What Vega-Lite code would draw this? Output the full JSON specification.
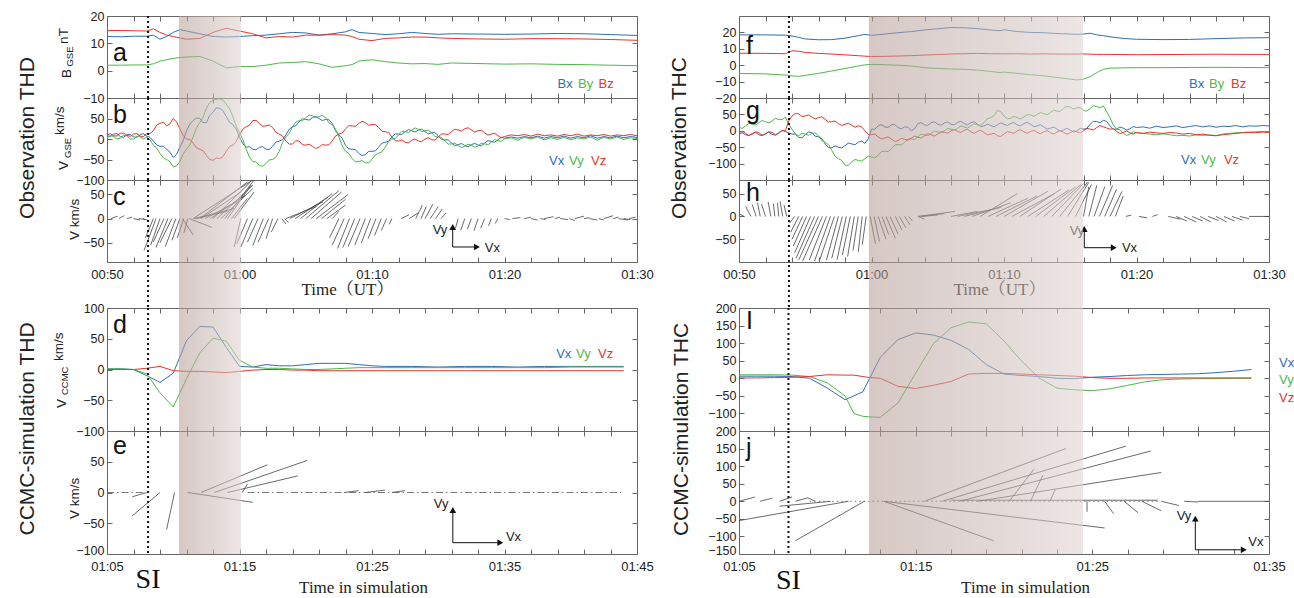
{
"$schema": "https://vega.github.io/schema/vega-lite/v6.json",
"background": "white",
"padding": {"left": 16, "top": 9, "right": 0, "bottom": 0},
"config": {
  "view": {"stroke": "#666", "strokeWidth": 1},
  "axis": {"domain": false, "grid": false, "tickColor": "#666", "tickSize": -5, "tickWidth": 1, "labelFont": "Liberation Sans", "labelFontSize": 12.5, "labelColor": "#222", "titleFont": "Liberation Serif, Noto Serif CJK SC, Noto Sans CJK SC, serif", "titleFontSize": 17, "titleFontWeight": "normal", "titleColor": "#222", "labelOverlap": false, "labelFlush": false, "labelBound": false},
  "axisX": {"labelPadding": 11, "labelFontSize": 13},
  "axisY": {"labelPadding": 8},
  "text": {"font": "Liberation Sans"}
},
"datasets": {
"thdB": [
{"t":50,"x":12.5,"y":2.0,"z":14.7},{"t":51,"x":12.4,"y":2.0,"z":14.7},{"t":52,"x":12.6,"y":2.1,"z":14.6},{"t":53,"x":12.6,"y":2.1,"z":14.5},{"t":53.5,"x":13.0,"y":2.5,"z":15.3},{"t":54,"x":11.5,"y":3.5,"z":14.0},{"t":54.5,"x":12.5,"y":4.0,"z":13.0},{"t":55,"x":14.0,"y":4.5,"z":12.5},{"t":55.5,"x":15.0,"y":4.8,"z":12.0},{"t":56,"x":14.5,"y":5.0,"z":11.5},{"t":57,"x":13.5,"y":5.2,"z":11.8},{"t":58,"x":12.5,"y":3.5,"z":14.0},{"t":59,"x":12.3,"y":1.0,"z":15.5},{"t":60,"x":12.5,"y":1.5,"z":14.5},{"t":61,"x":12.8,"y":1.5,"z":13.5},{"t":62,"x":13.0,"y":2.0,"z":12.0},{"t":63,"x":13.5,"y":2.8,"z":12.5},{"t":64,"x":14.0,"y":3.0,"z":12.3},{"t":65,"x":13.8,"y":3.3,"z":13.0},{"t":66,"x":13.0,"y":2.5,"z":13.0},{"t":67,"x":13.5,"y":1.2,"z":13.2},{"t":68,"x":14.2,"y":1.8,"z":13.0},{"t":68.5,"x":15.0,"y":2.2,"z":12.5},{"t":69,"x":14.0,"y":3.5,"z":11.5},{"t":70,"x":13.6,"y":4.0,"z":11.0},{"t":71,"x":13.2,"y":3.3,"z":11.8},{"t":72,"x":13.5,"y":2.8,"z":12.0},{"t":73,"x":14.0,"y":2.5,"z":12.3},{"t":74,"x":13.6,"y":2.6,"z":12.3},{"t":75,"x":13.3,"y":2.3,"z":12.0},{"t":76,"x":13.5,"y":2.8,"z":11.8},{"t":78,"x":13.4,"y":2.6,"z":11.6},{"t":80,"x":13.3,"y":2.4,"z":11.5},{"t":82,"x":13.4,"y":2.5,"z":11.7},{"t":84,"x":13.6,"y":2.3,"z":11.7},{"t":86,"x":13.5,"y":2.2,"z":11.6},{"t":88,"x":13.2,"y":2.0,"z":11.4},{"t":90,"x":12.9,"y":1.8,"z":11.1}
],
"thdV": [
{"t":50.0,"x":8,"y":3,"z":10},{"t":50.5,"x":12,"y":6,"z":8},{"t":51.0,"x":6,"y":2,"z":14},{"t":51.5,"x":10,"y":8,"z":9},{"t":52.0,"x":5,"y":0,"z":12},{"t":52.5,"x":11,"y":5,"z":7},{"t":53.0,"x":7,"y":4,"z":13},{"t":53.5,"x":-5,"y":-15,"z":20},{"t":54.0,"x":-18,"y":-35,"z":38},{"t":54.5,"x":-25,"y":-50,"z":32},{"t":55.0,"x":-45,"y":-68,"z":50},{"t":55.5,"x":-20,"y":-55,"z":25},{"t":56.0,"x":20,"y":-25,"z":0},{"t":56.5,"x":45,"y":5,"z":-10},{"t":57.0,"x":50,"y":40,"z":-25},{"t":57.5,"x":40,"y":75,"z":-40},{"t":58.0,"x":65,"y":95,"z":-52},{"t":58.5,"x":75,"y":98,"z":-48},{"t":59.0,"x":55,"y":85,"z":-30},{"t":59.5,"x":35,"y":55,"z":-15},{"t":60.0,"x":5,"y":15,"z":10},{"t":60.5,"x":-20,"y":-25,"z":30},{"t":61.0,"x":-25,"y":-55,"z":45},{"t":61.5,"x":-20,"y":-65,"z":38},{"t":62.0,"x":-25,"y":-60,"z":32},{"t":62.5,"x":-18,"y":-50,"z":28},{"t":63.0,"x":-5,"y":-30,"z":12},{"t":63.5,"x":10,"y":5,"z":-5},{"t":64.0,"x":30,"y":30,"z":-12},{"t":64.5,"x":42,"y":45,"z":-5},{"t":65.0,"x":48,"y":52,"z":-15},{"t":65.5,"x":52,"y":57,"z":-18},{"t":66.0,"x":50,"y":55,"z":-20},{"t":66.5,"x":48,"y":52,"z":-15},{"t":67.0,"x":38,"y":35,"z":-5},{"t":67.5,"x":10,"y":5,"z":12},{"t":68.0,"x":-15,"y":-30,"z":25},{"t":68.5,"x":-25,"y":-48,"z":32},{"t":69.0,"x":-35,"y":-55,"z":38},{"t":69.5,"x":-38,"y":-58,"z":40},{"t":70.0,"x":-30,"y":-50,"z":35},{"t":70.5,"x":-20,"y":-35,"z":28},{"t":71.0,"x":-8,"y":-20,"z":18},{"t":71.5,"x":5,"y":0,"z":5},{"t":72.0,"x":12,"y":10,"z":-5},{"t":72.5,"x":18,"y":18,"z":-8},{"t":73.0,"x":20,"y":22,"z":-3},{"t":73.5,"x":22,"y":24,"z":-5},{"t":74.0,"x":18,"y":20,"z":0},{"t":74.5,"x":15,"y":15,"z":-2},{"t":75.0,"x":8,"y":5,"z":5},{"t":75.5,"x":-2,"y":-5,"z":12},{"t":76.0,"x":-10,"y":-12,"z":18},{"t":76.5,"x":-14,"y":-16,"z":22},{"t":77.0,"x":-16,"y":-18,"z":25},{"t":77.5,"x":-14,"y":-15,"z":22},{"t":78.0,"x":-15,"y":-17,"z":20},{"t":78.5,"x":-10,"y":-12,"z":15},{"t":79.0,"x":-6,"y":-8,"z":12},{"t":79.5,"x":-2,"y":-4,"z":8},{"t":80.0,"x":2,"y":0,"z":6},{"t":80.5,"x":5,"y":3,"z":10},{"t":81.0,"x":2,"y":-3,"z":8},{"t":81.5,"x":6,"y":4,"z":11},{"t":82.0,"x":3,"y":0,"z":7},{"t":82.5,"x":7,"y":5,"z":12},{"t":83.0,"x":2,"y":-2,"z":8},{"t":83.5,"x":6,"y":3,"z":10},{"t":84.0,"x":3,"y":-1,"z":7},{"t":84.5,"x":7,"y":4,"z":11},{"t":85.0,"x":2,"y":-2,"z":8},{"t":85.5,"x":6,"y":3,"z":12},{"t":86.0,"x":3,"y":0,"z":7},{"t":86.5,"x":8,"y":5,"z":10},{"t":87.0,"x":2,"y":-3,"z":8},{"t":87.5,"x":6,"y":4,"z":11},{"t":88.0,"x":3,"y":0,"z":7},{"t":88.5,"x":7,"y":5,"z":10},{"t":89.0,"x":3,"y":-1,"z":8},{"t":89.5,"x":6,"y":3,"z":11},{"t":90.0,"x":4,"y":1,"z":8},
{"t":50.25,"x":6,"y":8.5,"z":13},{"t":50.75,"x":13,"y":0,"z":7},{"t":51.25,"x":4,"y":9,"z":14.5},{"t":51.75,"x":11.5,"y":0,"z":6.5},{"t":52.25,"x":4,"y":6.5,"z":13.5},{"t":52.75,"x":13,"y":0.5,"z":6},{"t":53.25,"x":4,"y":-2.5,"z":13.5},{"t":53.75,"x":-14.5,"y":-22,"z":34},{"t":54.25,"x":-17.5,"y":-46.5,"z":41},{"t":54.75,"x":-32,"y":-55,"z":37},{"t":55.25,"x":-37.5,"y":-65.5,"z":41.5},{"t":55.75,"x":-4,"y":-36,"z":8.5},{"t":56.25,"x":36.5,"y":-14,"z":-1},{"t":56.75,"x":51.5,"y":26.5,"z":-21.5},{"t":57.25,"x":40,"y":53.5,"z":-28.5},{"t":57.75,"x":57.5,"y":89,"z":-50},{"t":58.25,"x":76,"y":96.5,"z":-46},{"t":58.75,"x":69,"y":94.5,"z":-43},{"t":59.25,"x":41,"y":74,"z":-18.5},{"t":59.75,"x":24,"y":31,"z":-6.5},{"t":60.25,"x":-11.5,"y":-1,"z":24},{"t":60.75,"x":-18.5,"y":-44,"z":33.5},{"t":61.25,"x":-26.5,"y":-56,"z":45.5},{"t":61.75,"x":-18.5,"y":-66.5,"z":31},{"t":62.25,"x":-25.5,"y":-51,"z":34},{"t":62.75,"x":-7.5,"y":-44,"z":16},{"t":63.25,"x":-1.5,"y":-8.5,"z":7.5},{"t":63.75,"x":24,"y":13.5,"z":-12.5},{"t":64.25,"x":32,"y":41.5,"z":-4.5},{"t":64.75,"x":49,"y":44.5,"z":-14},{"t":65.25,"x":46,"y":58.5,"z":-12.5},{"t":65.75,"x":55,"y":52,"z":-23},{"t":66.25,"x":45,"y":57.5,"z":-13.5},{"t":66.75,"x":47,"y":39.5,"z":-14},{"t":67.25,"x":20,"y":24,"z":7.5},{"t":67.75,"x":1.5,"y":-16.5,"z":14.5},{"t":68.25,"x":-24,"y":-35,"z":32.5},{"t":68.75,"x":-26,"y":-55.5,"z":31},{"t":69.25,"x":-40.5,"y":-52.5,"z":43},{"t":69.75,"x":-30,"y":-58,"z":33.5},{"t":70.25,"x":-29,"y":-38.5,"z":35.5},{"t":70.75,"x":-10,"y":-31.5,"z":19},{"t":71.25,"x":-5.5,"y":-6,"z":15.5},{"t":71.75,"x":12.5,"y":1,"z":-4},{"t":72.25,"x":11,"y":18,"z":-2.5},{"t":72.75,"x":23,"y":16,"z":-9.5},{"t":73.25,"x":17,"y":27,"z":0},{"t":73.75,"x":24,"y":18,"z":-6.5},{"t":74.25,"x":12.5,"y":21.5,"z":3},{"t":74.75,"x":15.5,"y":6,"z":-2.5},{"t":75.25,"x":-1,"y":4,"z":12.5},{"t":75.75,"x":-2,"y":-12.5,"z":11},{"t":76.25,"x":-16,"y":-10,"z":24},{"t":76.75,"x":-11,"y":-21,"z":19.5},{"t":77.25,"x":-19,"y":-12.5,"z":27.5},{"t":77.75,"x":-10.5,"y":-20,"z":17},{"t":78.25,"x":-16.5,"y":-10.5,"z":21.5},{"t":78.75,"x":-4,"y":-14,"z":9.5},{"t":79.25,"x":-8,"y":-2,"z":14},{"t":79.75,"x":4,"y":-6,"z":3}
],
"thdVec": [
{"t":50.3,"v":0,"t2":50.8,"v2":5},{"t":50.9,"v":0,"t2":51.3,"v2":6},{"t":51.5,"v":0,"t2":51.9,"v2":3},{"t":52.0,"v":0,"t2":52.5,"v2":-3},{"t":52.4,"v":0,"t2":52.9,"v2":-2},{"t":52.7,"v":0,"t2":53.1,"v2":-4},
{"t":53.5,"v":0,"t2":52.9,"v2":-40},{"t":53.7,"v":0,"t2":52.8,"v2":-66},{"t":54.0,"v":0,"t2":53.3,"v2":-55},{"t":54.3,"v":0,"t2":53.5,"v2":-48},{"t":54.6,"v":0,"t2":53.7,"v2":-60},{"t":54.9,"v":0,"t2":54.0,"v2":-50},{"t":55.2,"v":0,"t2":54.4,"v2":-58},{"t":55.5,"v":0,"t2":54.9,"v2":-45},{"t":55.8,"v":0,"t2":55.3,"v2":-40},{"t":56.1,"v":0,"t2":55.8,"v2":-30},
{"t":55.7,"v":0,"t2":56.5,"v2":-34},{"t":56.2,"v":0,"t2":57.9,"v2":-18},
{"t":56.5,"v":0,"t2":61.0,"v2":80},{"t":56.6,"v":0,"t2":59.6,"v2":21},{"t":56.7,"v":0,"t2":59.1,"v2":15},{"t":57.0,"v":0,"t2":60.6,"v2":76},{"t":57.1,"v":0,"t2":60.1,"v2":55},{"t":57.4,"v":0,"t2":59.8,"v2":35},{"t":57.8,"v":0,"t2":60.4,"v2":48},{"t":58.0,"v":0,"t2":60.8,"v2":75},{"t":58.3,"v":0,"t2":61.0,"v2":69},{"t":58.6,"v":0,"t2":61.0,"v2":62},{"t":58.9,"v":0,"t2":61.1,"v2":80},{"t":59.1,"v":0,"t2":60.9,"v2":70},{"t":59.4,"v":0,"t2":60.6,"v2":42},{"t":59.6,"v":0,"t2":61.1,"v2":55},
{"t":60.1,"v":0,"t2":59.6,"v2":-59},{"t":60.6,"v":0,"t2":59.8,"v2":-52},{"t":61.0,"v":0,"t2":60.1,"v2":-59},{"t":61.4,"v":0,"t2":60.6,"v2":-49},{"t":61.8,"v":0,"t2":61.0,"v2":-56},{"t":62.2,"v":0,"t2":61.4,"v2":-49},{"t":62.5,"v":0,"t2":62.0,"v2":-42},{"t":62.9,"v":0,"t2":62.4,"v2":-28},
{"t":63.2,"v":0,"t2":63.5,"v2":-11},{"t":63.4,"v":0,"t2":63.7,"v2":-8},
{"t":63.5,"v":0,"t2":65.8,"v2":25},{"t":63.8,"v":0,"t2":66.3,"v2":35},{"t":64.2,"v":0,"t2":66.7,"v2":45},{"t":64.6,"v":0,"t2":67.0,"v2":52},{"t":65.0,"v":0,"t2":67.5,"v2":58},{"t":65.4,"v":0,"t2":67.7,"v2":55},{"t":65.8,"v":0,"t2":68.2,"v2":50},{"t":66.2,"v":0,"t2":68.0,"v2":40},{"t":66.6,"v":0,"t2":68.0,"v2":28},{"t":67.0,"v":0,"t2":67.5,"v2":15},
{"t":67.5,"v":0,"t2":66.8,"v2":-40},{"t":67.9,"v":0,"t2":67.0,"v2":-55},{"t":68.3,"v":0,"t2":67.4,"v2":-62},{"t":68.7,"v":0,"t2":67.8,"v2":-60},{"t":69.1,"v":0,"t2":68.2,"v2":-58},{"t":69.5,"v":0,"t2":68.7,"v2":-55},{"t":69.9,"v":0,"t2":69.2,"v2":-50},{"t":70.3,"v":0,"t2":69.7,"v2":-42},{"t":70.7,"v":0,"t2":70.2,"v2":-35},{"t":71.1,"v":0,"t2":70.7,"v2":-25},{"t":71.5,"v":0,"t2":71.3,"v2":-12},
{"t":72.2,"v":0,"t2":72.8,"v2":8},{"t":72.8,"v":0,"t2":73.5,"v2":12},{"t":73.3,"v":0,"t2":73.8,"v2":28},{"t":73.7,"v":0,"t2":74.1,"v2":25},{"t":74.0,"v":0,"t2":74.6,"v2":30},{"t":74.4,"v":0,"t2":75.0,"v2":25},{"t":74.8,"v":0,"t2":75.3,"v2":20},{"t":75.2,"v":0,"t2":75.6,"v2":12},
{"t":76.5,"v":0,"t2":76.3,"v2":-20},{"t":77.0,"v":0,"t2":76.7,"v2":-24},{"t":77.5,"v":0,"t2":77.2,"v2":-22},{"t":78.0,"v":0,"t2":77.7,"v2":-25},{"t":78.5,"v":0,"t2":78.2,"v2":-20},{"t":79.0,"v":0,"t2":78.8,"v2":-15},{"t":79.5,"v":0,"t2":79.3,"v2":-10},
{"t":80.0,"v":0,"t2":80.4,"v2":-2},{"t":80.6,"v":0,"t2":81.2,"v2":2},{"t":81.5,"v":0,"t2":82.0,"v2":3},{"t":82.0,"v":0,"t2":82.5,"v2":-3},{"t":82.7,"v":0,"t2":83.1,"v2":-2},{"t":83.0,"v":0,"t2":83.7,"v2":4},{"t":83.8,"v":0,"t2":84.2,"v2":3},{"t":84.2,"v":0,"t2":84.8,"v2":-2},{"t":84.9,"v":0,"t2":85.3,"v2":-4},{"t":85.3,"v":0,"t2":86.0,"v2":5},{"t":86.0,"v":0,"t2":86.4,"v2":2},{"t":86.4,"v":0,"t2":87.0,"v2":-3},{"t":87.1,"v":0,"t2":87.5,"v2":-3},{"t":87.5,"v":0,"t2":88.2,"v2":6},{"t":88.2,"v":0,"t2":88.6,"v2":3},{"t":88.6,"v":0,"t2":89.3,"v2":-3},{"t":89.0,"v":0,"t2":89.5,"v2":-2},{"t":89.4,"v":0,"t2":89.9,"v2":3}
],
"thdSim": [
{"t":65,"x":1,"y":1,"z":0},{"t":66,"x":1,"y":1,"z":0},{"t":67,"x":0,"y":0,"z":0},{"t":68,"x":-10,"y":-7,"z":2},{"t":69,"x":-21,"y":-38,"z":5},{"t":70,"x":-6,"y":-61,"z":-2},{"t":71,"x":47,"y":-15,"z":-3},{"t":72,"x":70,"y":27,"z":-3},{"t":73,"x":69,"y":51,"z":-4},{"t":74,"x":36,"y":46,"z":-5},{"t":75,"x":5,"y":15,"z":-3},{"t":76,"x":4,"y":4,"z":-1},{"t":77,"x":8,"y":2,"z":0},{"t":78,"x":6,"y":2,"z":0},{"t":79,"x":6,"y":1,"z":-1},{"t":80,"x":8,"y":0,"z":-1},{"t":81,"x":10,"y":0,"z":-2},{"t":82,"x":10,"y":1,"z":-2},{"t":83,"x":10,"y":2,"z":-2},{"t":84,"x":8,"y":3,"z":-2},{"t":85,"x":6,"y":3,"z":-2},{"t":86,"x":5,"y":3,"z":-2},{"t":88,"x":5,"y":3,"z":-2},{"t":90,"x":4,"y":3,"z":-2},{"t":92,"x":5,"y":3,"z":-2},{"t":94,"x":5,"y":3,"z":-2},{"t":96,"x":4,"y":3,"z":-2},{"t":98,"x":5,"y":3,"z":-2},{"t":100,"x":5,"y":4,"z":-2},{"t":102,"x":5,"y":4,"z":-2},{"t":104,"x":5,"y":4,"z":-2}
],
"thdSimVec": [
{"t":68.0,"v":0,"t2":66.9,"v2":-7},{"t":69.0,"v":0,"t2":66.9,"v2":-38},{"t":70.1,"v":0,"t2":69.5,"v2":-60},{"t":71.1,"v":0,"t2":76.0,"v2":-16},{"t":72.1,"v":0,"t2":77.1,"v2":45},{"t":73.1,"v":0,"t2":80.1,"v2":52},{"t":74.1,"v":0,"t2":79.4,"v2":27},{"t":75.2,"v":0,"t2":75.6,"v2":14},{"t":82.9,"v":0,"t2":84.0,"v2":3},{"t":84.5,"v":0,"t2":86.0,"v2":4},{"t":86.5,"v":0,"t2":87.5,"v2":3}
],
"thcB": [
{"t":50,"x":18.5,"y":-5.0,"z":7.3},{"t":52,"x":18.5,"y":-5.3,"z":7.2},{"t":53.5,"x":18.3,"y":-6.0,"z":7.0},{"t":54,"x":17.8,"y":-6.5,"z":8.8},{"t":54.5,"x":17.0,"y":-6.8,"z":8.5},{"t":55,"x":16.0,"y":-6.2,"z":7.8},{"t":56,"x":15.5,"y":-5.0,"z":7.2},{"t":57,"x":15.6,"y":-3.5,"z":6.8},{"t":58,"x":16.5,"y":-2.0,"z":6.3},{"t":59,"x":18.0,"y":-0.5,"z":5.8},{"t":59.5,"x":18.8,"y":0.2,"z":5.5},{"t":60,"x":18.2,"y":0.5,"z":5.3},{"t":61,"x":19.0,"y":0.3,"z":5.4},{"t":62,"x":19.8,"y":0.0,"z":5.6},{"t":63,"x":20.5,"y":-0.5,"z":5.8},{"t":64,"x":21.5,"y":-1.5,"z":6.2},{"t":65,"x":22.2,"y":-2.0,"z":6.5},{"t":66,"x":23.0,"y":-2.3,"z":6.8},{"t":67,"x":22.8,"y":-2.5,"z":7.0},{"t":68,"x":22.3,"y":-3.0,"z":7.2},{"t":69,"x":21.5,"y":-3.8,"z":7.0},{"t":69.7,"x":21.0,"y":-4.5,"z":7.0},{"t":70,"x":21.6,"y":-4.2,"z":6.9},{"t":71,"x":20.5,"y":-5.0,"z":7.0},{"t":72,"x":20.0,"y":-5.8,"z":6.8},{"t":73,"x":19.8,"y":-6.5,"z":6.9},{"t":74,"x":19.3,"y":-7.5,"z":6.8},{"t":75,"x":19.0,"y":-8.5,"z":6.8},{"t":75.5,"x":18.8,"y":-9.0,"z":6.8},{"t":76,"x":19.0,"y":-8.5,"z":6.9},{"t":76.5,"x":19.5,"y":-7.0,"z":6.7},{"t":77,"x":18.5,"y":-4.5,"z":6.6},{"t":77.5,"x":18.0,"y":-2.5,"z":6.6},{"t":78,"x":17.3,"y":-1.8,"z":6.6},{"t":79,"x":16.3,"y":-1.6,"z":6.5},{"t":80,"x":15.8,"y":-1.5,"z":6.4},{"t":82,"x":15.6,"y":-1.5,"z":6.5},{"t":84,"x":15.7,"y":-1.4,"z":6.6},{"t":86,"x":16.2,"y":-1.3,"z":6.7},{"t":88,"x":16.6,"y":-1.4,"z":6.6},{"t":90,"x":16.8,"y":-1.5,"z":6.6}
],
"thcV": [
{"t":50.0,"x":-10,"y":10,"z":-5},{"t":50.5,"x":-12,"y":15,"z":-8},{"t":51.0,"x":-8,"y":20,"z":-10},{"t":51.5,"x":-12,"y":25,"z":-6},{"t":52.0,"x":-8,"y":28,"z":-10},{"t":52.5,"x":-11,"y":30,"z":-5},{"t":53.0,"x":-6,"y":35,"z":-8},{"t":53.5,"x":-2,"y":42,"z":0},{"t":54.0,"x":-10,"y":5,"z":45},{"t":54.5,"x":-20,"y":-15,"z":52},{"t":55.0,"x":-12,"y":-10,"z":45},{"t":55.5,"x":-5,"y":-8,"z":42},{"t":56.0,"x":-18,"y":-15,"z":40},{"t":56.5,"x":-40,"y":-35,"z":35},{"t":57.0,"x":-52,"y":-60,"z":28},{"t":57.5,"x":-50,"y":-85,"z":22},{"t":58.0,"x":-45,"y":-105,"z":20},{"t":58.5,"x":-40,"y":-95,"z":17},{"t":59.0,"x":-35,"y":-90,"z":15},{"t":59.5,"x":-38,"y":-85,"z":0},{"t":60.0,"x":5,"y":-80,"z":-12},{"t":60.5,"x":15,"y":-75,"z":-18},{"t":61.0,"x":12,"y":-62,"z":-22},{"t":61.5,"x":18,"y":-55,"z":-25},{"t":62.0,"x":10,"y":-42,"z":-30},{"t":62.5,"x":12,"y":-35,"z":-26},{"t":63.0,"x":0,"y":-25,"z":-22},{"t":63.5,"x":22,"y":-18,"z":-20},{"t":64.0,"x":18,"y":-12,"z":-15},{"t":64.5,"x":25,"y":-8,"z":-12},{"t":65.0,"x":20,"y":-3,"z":-10},{"t":65.5,"x":24,"y":0,"z":-5},{"t":66.0,"x":20,"y":5,"z":0},{"t":66.5,"x":26,"y":8,"z":-2},{"t":67.0,"x":22,"y":12,"z":2},{"t":67.5,"x":25,"y":15,"z":-3},{"t":68.0,"x":20,"y":18,"z":-2},{"t":68.5,"x":15,"y":25,"z":-5},{"t":69.0,"x":16,"y":40,"z":-10},{"t":69.5,"x":18,"y":62,"z":-15},{"t":70.0,"x":20,"y":45,"z":-10},{"t":70.5,"x":22,"y":38,"z":-5},{"t":71.0,"x":18,"y":40,"z":0},{"t":71.5,"x":22,"y":42,"z":-3},{"t":72.0,"x":20,"y":48,"z":-2},{"t":72.5,"x":15,"y":50,"z":-5},{"t":73.0,"x":12,"y":52,"z":-3},{"t":73.5,"x":8,"y":56,"z":-6},{"t":74.0,"x":5,"y":60,"z":-4},{"t":74.5,"x":3,"y":68,"z":-5},{"t":75.0,"x":2,"y":72,"z":-6},{"t":75.5,"x":0,"y":70,"z":-3},{"t":76.0,"x":5,"y":62,"z":0},{"t":76.5,"x":20,"y":68,"z":5},{"t":77.0,"x":28,"y":74,"z":10},{"t":77.5,"x":32,"y":76,"z":12},{"t":78.0,"x":15,"y":40,"z":5},{"t":78.5,"x":5,"y":5,"z":-2},{"t":79.0,"x":8,"y":-8,"z":-5},{"t":79.5,"x":6,"y":-10,"z":-6},{"t":80.0,"x":10,"y":-6,"z":-5},{"t":80.5,"x":12,"y":-8,"z":-8},{"t":81.0,"x":8,"y":-10,"z":-4},{"t":81.5,"x":14,"y":-12,"z":-6},{"t":82.0,"x":10,"y":-9,"z":-8},{"t":82.5,"x":12,"y":-12,"z":-5},{"t":83.0,"x":15,"y":-15,"z":-7},{"t":83.5,"x":10,"y":-14,"z":-10},{"t":84.0,"x":13,"y":-16,"z":-8},{"t":84.5,"x":16,"y":-12,"z":-12},{"t":85.0,"x":12,"y":-14,"z":-10},{"t":85.5,"x":15,"y":-12,"z":-14},{"t":86.0,"x":11,"y":-15,"z":-15},{"t":86.5,"x":14,"y":-10,"z":-12},{"t":87.0,"x":13,"y":-8,"z":-10},{"t":87.5,"x":16,"y":-6,"z":-8},{"t":88.0,"x":12,"y":-5,"z":-6},{"t":88.5,"x":15,"y":-4,"z":-5},{"t":89.0,"x":14,"y":-3,"z":-6},{"t":89.5,"x":16,"y":-2,"z":-4},{"t":90.0,"x":15,"y":-3,"z":-5},
{"t":50.25,"x":-6,"y":7.5,"z":-1.5},{"t":50.75,"x":-15,"y":22.5,"z":-14},{"t":51.25,"x":-5,"y":17.5,"z":-3},{"t":51.75,"x":-15,"y":31.5,"z":-13},{"t":52.25,"x":-4.5,"y":24,"z":-2.5},{"t":52.75,"x":-13.5,"y":37.5,"z":-11.5},{"t":53.25,"x":1,"y":33.5,"z":1},{"t":53.75,"x":-6,"y":20,"z":30},{"t":54.25,"x":-10,"y":-10,"z":52.5},{"t":54.75,"x":-21,"y":-7.5,"z":43.5},{"t":55.25,"x":-3.5,"y":-14,"z":48.5},{"t":55.75,"x":-16.5,"y":-6.5,"z":36},{"t":56.25,"x":-24,"y":-30,"z":42.5},{"t":56.75,"x":-51,"y":-42.5,"z":26.5},{"t":57.25,"x":-46,"y":-77.5,"z":30},{"t":57.75,"x":-52.5,"y":-90,"z":16},{"t":58.25,"x":-37.5,"y":-105,"z":23.5},{"t":58.75,"x":-42.5,"y":-87.5,"z":11},{"t":59.25,"x":-31.5,"y":-92.5,"z":12.5},{"t":59.75,"x":-25,"y":-77.5,"z":-11},{"t":60.25,"x":5,"y":-82.5,"z":-10},{"t":60.75,"x":18.5,"y":-63.5,"z":-25},{"t":61.25,"x":10,"y":-63.5,"z":-18.5},{"t":61.75,"x":19,"y":-43.5,"z":-32.5},{"t":62.25,"x":6,"y":-43.5,"z":-23},{"t":62.75,"x":11,"y":-25,"z":-29},{"t":63.25,"x":6,"y":-26.5,"z":-16},{"t":63.75,"x":25,"y":-10,"z":-22.5},{"t":64.25,"x":16.5,"y":-15,"z":-8.5},{"t":64.75,"x":27.5,"y":-0.5,"z":-16},{"t":65.25,"x":17,"y":-6.5,"z":-2.5},{"t":65.75,"x":27,"y":7.5,"z":-7.5},{"t":66.25,"x":18,"y":1.5,"z":4},{"t":66.75,"x":29,"y":15,"z":-5},{"t":67.25,"x":18.5,"y":8.5,"z":4.5},{"t":67.75,"x":27.5,"y":21.5,"z":-7.5},{"t":68.25,"x":12.5,"y":16.5,"z":1.5},{"t":68.75,"x":20.5,"y":37.5,"z":-12.5},{"t":69.25,"x":12,"y":46,"z":-7.5},{"t":69.75,"x":24,"y":58.5,"z":-17.5},{"t":70.25,"x":16,"y":36.5,"z":-2.5},{"t":70.75,"x":25,"y":44,"z":-7.5},{"t":71.25,"x":15,"y":36,"z":3.5},{"t":71.75,"x":26,"y":50,"z":-7.5},{"t":72.25,"x":12.5,"y":44,"z":1.5},{"t":72.75,"x":18.5,"y":56,"z":-9},{"t":73.25,"x":5,"y":49,"z":0.5},{"t":73.75,"x":11.5,"y":63,"z":-10},{"t":74.25,"x":-1,"y":59,"z":0.5},{"t":74.75,"x":7.5,"y":75,"z":-10.5},{"t":75.25,"x":-4,"y":66,"z":0.5},{"t":75.75,"x":7.5,"y":71,"z":-6.5},{"t":76.25,"x":7.5,"y":60,"z":7.5},{"t":76.75,"x":29,"y":76,"z":2.5},{"t":77.25,"x":25,"y":70,"z":16},{"t":77.75,"x":28.5,"y":58,"z":8.5},{"t":78.25,"x":5,"y":17.5,"z":6.5},{"t":78.75,"x":11.5,"y":3.5,"z":-8.5},{"t":79.25,"x":2,"y":-14,"z":-0.5},{"t":79.75,"x":13,"y":-3,"z":-10.5}
],
"thcVec": [
{"t":50.4,"v":0,"t2":50.0,"v2":6},{"t":50.9,"v":0,"t2":50.5,"v2":22},{"t":51.3,"v":0,"t2":51.0,"v2":26},{"t":51.6,"v":0,"t2":51.4,"v2":30},{"t":52.0,"v":0,"t2":51.7,"v2":27},{"t":52.4,"v":0,"t2":52.2,"v2":32},{"t":52.7,"v":0,"t2":52.6,"v2":28},{"t":53.0,"v":0,"t2":52.9,"v2":30},{"t":53.3,"v":0,"t2":53.1,"v2":33},{"t":53.6,"v":0,"t2":53.4,"v2":25},
{"t":54.2,"v":0,"t2":53.8,"v2":-15},{"t":54.5,"v":0,"t2":53.9,"v2":-35},{"t":54.8,"v":0,"t2":54.0,"v2":-50},{"t":55.1,"v":0,"t2":54.1,"v2":-65},{"t":55.4,"v":0,"t2":54.2,"v2":-80},{"t":55.7,"v":0,"t2":54.3,"v2":-92},{"t":56.0,"v":0,"t2":54.5,"v2":-96},{"t":56.3,"v":0,"t2":54.8,"v2":-98},{"t":56.6,"v":0,"t2":55.3,"v2":-96},{"t":56.9,"v":0,"t2":55.7,"v2":-98},{"t":57.2,"v":0,"t2":56.1,"v2":-95},{"t":57.5,"v":0,"t2":56.6,"v2":-96},{"t":57.8,"v":0,"t2":57.0,"v2":-92},{"t":58.1,"v":0,"t2":57.4,"v2":-95},{"t":58.4,"v":0,"t2":57.8,"v2":-85},{"t":58.7,"v":0,"t2":58.2,"v2":-88},{"t":59.0,"v":0,"t2":58.6,"v2":-75},{"t":59.3,"v":0,"t2":59.0,"v2":-78},{"t":59.6,"v":0,"t2":59.3,"v2":-62},
{"t":59.9,"v":0,"t2":60.3,"v2":-60},{"t":60.2,"v":0,"t2":60.6,"v2":-55},{"t":60.5,"v":0,"t2":61.1,"v2":-50},{"t":60.8,"v":0,"t2":61.3,"v2":-40},{"t":61.1,"v":0,"t2":61.8,"v2":-48},{"t":61.4,"v":0,"t2":62.0,"v2":-38},{"t":61.8,"v":0,"t2":62.3,"v2":-30},{"t":62.1,"v":0,"t2":62.6,"v2":-25},{"t":62.5,"v":0,"t2":62.9,"v2":-18},{"t":62.8,"v":0,"t2":63.1,"v2":-10},
{"t":63.5,"v":0,"t2":66.3,"v2":11},{"t":63.6,"v":0,"t2":65.5,"v2":6},{"t":63.8,"v":0,"t2":65.0,"v2":3},{"t":63.5,"v":0,"t2":64.0,"v2":-6},
{"t":66.0,"v":0,"t2":68.0,"v2":11},{"t":66.5,"v":0,"t2":69.0,"v2":15},{"t":67.0,"v":0,"t2":69.8,"v2":20},{"t":67.6,"v":0,"t2":70.5,"v2":30},{"t":68.2,"v":0,"t2":71.0,"v2":50},{"t":68.8,"v":0,"t2":71.8,"v2":40},{"t":69.4,"v":0,"t2":72.5,"v2":45},{"t":70.0,"v":0,"t2":73.3,"v2":55},{"t":70.6,"v":0,"t2":73.8,"v2":50},{"t":71.2,"v":0,"t2":74.3,"v2":60},{"t":71.8,"v":0,"t2":74.9,"v2":58},{"t":72.4,"v":0,"t2":75.4,"v2":65},{"t":73.0,"v":0,"t2":75.8,"v2":70},{"t":73.6,"v":0,"t2":76.0,"v2":72},{"t":74.2,"v":0,"t2":76.3,"v2":75},{"t":74.8,"v":0,"t2":76.4,"v2":75},{"t":75.4,"v":0,"t2":76.6,"v2":70},{"t":76.0,"v":0,"t2":76.4,"v2":65},{"t":76.4,"v":0,"t2":77.0,"v2":68},{"t":76.8,"v":0,"t2":77.6,"v2":65},{"t":77.2,"v":0,"t2":78.2,"v2":68},{"t":77.6,"v":0,"t2":78.5,"v2":60},{"t":78.0,"v":0,"t2":78.9,"v2":55},{"t":78.4,"v":0,"t2":79.0,"v2":45},
{"t":79.2,"v":0,"t2":79.6,"v2":3},{"t":80.2,"v":0,"t2":80.8,"v2":-3},{"t":81.2,"v":0,"t2":81.6,"v2":4},
{"t":82.4,"v":0,"t2":83.3,"v2":-6},{"t":83.0,"v":0,"t2":83.8,"v2":-10},{"t":83.6,"v":0,"t2":84.5,"v2":-12},{"t":84.2,"v":0,"t2":85.0,"v2":-10},{"t":84.8,"v":0,"t2":85.6,"v2":-12},{"t":85.4,"v":0,"t2":86.2,"v2":-9},{"t":86.0,"v":0,"t2":86.8,"v2":-12},{"t":86.6,"v":0,"t2":87.4,"v2":-10},{"t":87.2,"v":0,"t2":88.0,"v2":-8},{"t":87.8,"v":0,"t2":88.5,"v2":-5},{"t":88.5,"v":0,"t2":90.0,"v2":0}
],
"thcSim": [
{"t":65,"x":6,"y":10,"z":1},{"t":66,"x":6,"y":10,"z":1},{"t":67,"x":6,"y":10,"z":2},{"t":68,"x":5,"y":9,"z":3},{"t":69,"x":0,"y":5,"z":5},{"t":70,"x":-28,"y":-13,"z":10},{"t":71,"x":-61,"y":-50,"z":9},{"t":71.5,"x":-50,"y":-100,"z":9},{"t":72,"x":-39,"y":-108,"z":5},{"t":72.4,"x":0,"y":-110,"z":2},{"t":73,"x":60,"y":-111,"z":0},{"t":74,"x":110,"y":-70,"z":-23},{"t":75,"x":129,"y":15,"z":-29},{"t":76,"x":123,"y":98,"z":-20},{"t":77,"x":108,"y":144,"z":-9},{"t":78,"x":82,"y":160,"z":12},{"t":79,"x":39,"y":155,"z":14},{"t":80,"x":12,"y":106,"z":14},{"t":81,"x":8,"y":49,"z":12},{"t":82,"x":5,"y":0,"z":10},{"t":83,"x":0,"y":-28,"z":8},{"t":84,"x":-1,"y":-33,"z":6},{"t":85,"x":3,"y":-35,"z":2},{"t":86,"x":5,"y":-30,"z":0},{"t":87,"x":8,"y":-20,"z":0},{"t":88,"x":10,"y":-10,"z":1},{"t":89,"x":11,"y":-4,"z":1},{"t":90,"x":12,"y":-2,"z":1},{"t":91,"x":13,"y":-1,"z":1},{"t":92,"x":16,"y":-1,"z":1},{"t":93,"x":20,"y":0,"z":1},{"t":94,"x":25,"y":0,"z":1}
],
"thcSimVec": [
{"t":65.0,"v":0,"t2":65.9,"v2":12},{"t":66.2,"v":0,"t2":66.9,"v2":9},{"t":67.3,"v":0,"t2":68.0,"v2":12},{"t":68.2,"v":0,"t2":68.9,"v2":10},{"t":68.9,"v":10,"t2":69.3,"v2":0},
{"t":65.0,"v":-55,"t2":71.2,"v2":0},{"t":67.3,"v":-14,"t2":70.2,"v2":0},{"t":68.2,"v":-112,"t2":72.1,"v2":0},
{"t":73.2,"v":0,"t2":79.4,"v2":-112},{"t":73.2,"v":0,"t2":85.7,"v2":-76},
{"t":75.5,"v":0,"t2":83.5,"v2":150},{"t":76.5,"v":0,"t2":86.9,"v2":157},{"t":77.5,"v":0,"t2":88.3,"v2":143},{"t":78.5,"v":0,"t2":88.9,"v2":82},
{"t":80.3,"v":0,"t2":81.7,"v2":92},{"t":81.5,"v":0,"t2":82.2,"v2":74},{"t":82.6,"v":0,"t2":82.9,"v2":33},
{"t":77.0,"v":3,"t2":88.7,"v2":3},
{"t":84.7,"v":0,"t2":84.7,"v2":-30},{"t":85.7,"v":0,"t2":86.2,"v2":-35},{"t":86.8,"v":0,"t2":87.6,"v2":-33},{"t":87.8,"v":0,"t2":88.9,"v2":-27},{"t":88.9,"v":0,"t2":89.9,"v2":-12},
{"t":90.2,"v":0,"t2":91.0,"v2":-2},{"t":91.0,"v":0,"t2":95.0,"v2":0}
]
},
"columns": 2,
"bounds": "flush",
"spacing": {"row": 0, "column": 102},
"concat": [
{
"width": 530, "height": 82,
"layer": [
{"data": {"name": "thdB"}, "transform": [{"fold": ["x","y","z"], "as": ["c","v"]}], "mark": {"type": "line", "strokeWidth": 1},
 "encoding": {"x": {"field": "t", "type": "quantitative", "scale": {"domain": [50,90], "nice": false, "zero": false}, "axis": {"values": [50,52,54,56,58,60,62,64,66,68,70,72,74,76,78,80,82,84,86,88,90], "labels": false, "title": null}},
  "y": {"field": "v", "type": "quantitative", "scale": {"domain": [-10,20], "nice": false, "zero": false}, "axis": {"values": [20,10,0,-10], "title": null}},
  "color": {"field": "c", "type": "nominal", "scale": {"domain": ["x","y","z"], "range": ["#2f6fb6","#4db848","#e8342c"]}, "legend": null}}},
{"data": {"values": [{"t":84.0,"v":-5,"c":"x","s":"Bx"},{"t":85.55,"v":-5,"c":"y","s":"By"},{"t":87.1,"v":-5,"c":"z","s":"Bz"}]}, "mark": {"type": "text", "fontSize": 13, "align": "left", "baseline": "middle"},
 "encoding": {"x": {"field": "t", "type": "quantitative", "axis": null}, "y": {"field": "v", "type": "quantitative", "axis": null}, "text": {"field": "s"}, "color": {"field": "c", "type": "nominal", "scale": {"domain": ["x","y","z"], "range": ["#2f6fb6","#4db848","#e8342c"]}, "legend": null}}},
{"data": {"values": [{"t":50,"v":3.5,"s":"a"}]}, "mark": {"type": "text", "fontSize": 25, "align": "left", "baseline": "alphabetic", "dx": 6, "color": "#111"},
 "encoding": {"x": {"field": "t", "type": "quantitative", "axis": null}, "y": {"field": "v", "type": "quantitative", "axis": null}, "text": {"field": "s"}}},
{"data": {"values": [{"t":47.28,"v":-2.7,"s":"B"},{"t":47.06,"v":9.8,"s":"nT"}]}, "mark": {"type": "text", "angle": 270, "fontSize": 13.5, "align": "left", "baseline": "alphabetic", "color": "#222"},
 "encoding": {"x": {"field": "t", "type": "quantitative", "axis": null}, "y": {"field": "v", "type": "quantitative", "axis": null}, "text": {"field": "s"}}},
{"data": {"values": [{"t":47.43,"v":1.5,"s":"GSE"}]}, "mark": {"type": "text", "angle": 270, "fontSize": 9.5, "align": "left", "baseline": "alphabetic", "color": "#222"},
 "encoding": {"x": {"field": "t", "type": "quantitative", "axis": null}, "y": {"field": "v", "type": "quantitative", "axis": null}, "text": {"field": "s"}}},
{"data": {"values": [{"t":55.43,"t2":60.11}]}, "mark": {"type": "rect", "fill": {"gradient": "linear", "x1": 0, "y1": 0, "x2": 1, "y2": 0, "stops": [{"offset": 0, "color": "#b49b95"}, {"offset": 1, "color": "#dcd1ce"}]}, "fillOpacity": 0.55},
 "encoding": {"x": {"field": "t", "type": "quantitative", "axis": null}, "x2": {"field": "t2"}, "y": {"datum": 20, "type": "quantitative", "axis": null}, "y2": {"datum": -10}}},
{"data": {"values": [{}]}, "mark": {"type": "rule", "strokeDash": [2,3], "strokeWidth": 2, "color": "#111"},
 "encoding": {"x": {"datum": 53.1, "type": "quantitative", "axis": {"orient": "top", "values": [50,52,54,56,58,60,62,64,66,68,70,72,74,76,78,80,82,84,86,88,90], "labels": false, "title": null}},
  "y": {"datum": 20, "type": "quantitative", "axis": {"orient": "right", "values": [20,10,0,-10], "labels": false, "title": null}}, "y2": {"datum": -10}}}
],
"resolve": {"axis": {"x": "independent", "y": "independent"}}
},
{
"width": 530, "height": 82,
"layer": [
{"data": {"name": "thcB"}, "transform": [{"fold": ["x","y","z"], "as": ["c","v"]}], "mark": {"type": "line", "strokeWidth": 1},
 "encoding": {"x": {"field": "t", "type": "quantitative", "scale": {"domain": [50,90], "nice": false, "zero": false}, "axis": {"values": [50,52,54,56,58,60,62,64,66,68,70,72,74,76,78,80,82,84,86,88,90], "labels": false, "title": null}},
  "y": {"field": "v", "type": "quantitative", "scale": {"domain": [-20,30], "nice": false, "zero": false}, "axis": {"values": [20,10,0,-10,-20], "title": null}},
  "color": {"field": "c", "type": "nominal", "scale": {"domain": ["x","y","z"], "range": ["#2f6fb6","#4db848","#e8342c"]}, "legend": null}}},
{"data": {"values": [{"t":83.96,"v":-11.6,"c":"x","s":"Bx"},{"t":85.47,"v":-11.6,"c":"y","s":"By"},{"t":87.13,"v":-11.6,"c":"z","s":"Bz"}]}, "mark": {"type": "text", "fontSize": 13, "align": "left", "baseline": "middle"},
 "encoding": {"x": {"field": "t", "type": "quantitative", "axis": null}, "y": {"field": "v", "type": "quantitative", "axis": null}, "text": {"field": "s"}, "color": {"field": "c", "type": "nominal", "scale": {"domain": ["x","y","z"], "range": ["#2f6fb6","#4db848","#e8342c"]}, "legend": null}}},
{"data": {"values": [{"t":50,"v":6.6,"s":"f"}]}, "mark": {"type": "text", "fontSize": 25, "align": "left", "baseline": "alphabetic", "dx": 7, "color": "#111"},
 "encoding": {"x": {"field": "t", "type": "quantitative", "axis": null}, "y": {"field": "v", "type": "quantitative", "axis": null}, "text": {"field": "s"}}},
{"data": {"values": [{"t":59.8,"t2":75.96}]}, "mark": {"type": "rect", "fill": {"gradient": "linear", "x1": 0, "y1": 0, "x2": 1, "y2": 0, "stops": [{"offset": 0, "color": "#b49b95"}, {"offset": 1, "color": "#dcd1ce"}]}, "fillOpacity": 0.55},
 "encoding": {"x": {"field": "t", "type": "quantitative", "axis": null}, "x2": {"field": "t2"}, "y": {"datum": 30, "type": "quantitative", "axis": null}, "y2": {"datum": -20}}},
{"data": {"values": [{}]}, "mark": {"type": "rule", "strokeDash": [2,3], "strokeWidth": 2, "color": "#111"},
 "encoding": {"x": {"datum": 53.77, "type": "quantitative", "axis": {"orient": "top", "values": [50,52,54,56,58,60,62,64,66,68,70,72,74,76,78,80,82,84,86,88,90], "labels": false, "title": null}},
  "y": {"datum": 30, "type": "quantitative", "axis": {"orient": "right", "values": [20,10,0,-10,-20], "labels": false, "title": null}}, "y2": {"datum": -20}}}
],
"resolve": {"axis": {"x": "independent", "y": "independent"}}
},
{
"width": 530, "height": 82,
"layer": [
{"data": {"name": "thdV"}, "transform": [{"fold": ["x","y","z"], "as": ["c","v"]}], "mark": {"type": "line", "strokeWidth": 1},
 "encoding": {"x": {"field": "t", "type": "quantitative", "scale": {"domain": [50,90], "nice": false, "zero": false}, "axis": {"values": [50,52,54,56,58,60,62,64,66,68,70,72,74,76,78,80,82,84,86,88,90], "labels": false, "title": null}},
  "y": {"field": "v", "type": "quantitative", "scale": {"domain": [-100,100], "nice": false, "zero": false}, "axis": {"values": [50,0,-50,-100], "title": null}},
  "color": {"field": "c", "type": "nominal", "scale": {"domain": ["x","y","z"], "range": ["#2f6fb6","#4db848","#e8342c"]}, "legend": null}}},
{"data": {"values": [{"t":83.36,"v":-53.7,"c":"x","s":"Vx"},{"t":84.87,"v":-53.7,"c":"y","s":"Vy"},{"t":86.53,"v":-53.7,"c":"z","s":"Vz"}]}, "mark": {"type": "text", "fontSize": 13, "align": "left", "baseline": "middle"},
 "encoding": {"x": {"field": "t", "type": "quantitative", "axis": null}, "y": {"field": "v", "type": "quantitative", "axis": null}, "text": {"field": "s"}, "color": {"field": "c", "type": "nominal", "scale": {"domain": ["x","y","z"], "range": ["#2f6fb6","#4db848","#e8342c"]}, "legend": null}}},
{"data": {"values": [{"t":50,"v":38,"s":"b"}]}, "mark": {"type": "text", "fontSize": 25, "align": "left", "baseline": "alphabetic", "dx": 6, "color": "#111"},
 "encoding": {"x": {"field": "t", "type": "quantitative", "axis": null}, "y": {"field": "v", "type": "quantitative", "axis": null}, "text": {"field": "s"}}},
{"data": {"values": [{"t":47.06,"v":-75.6,"s":"V"},{"t":46.79,"v":9.8,"s":"km/s"}]}, "mark": {"type": "text", "angle": 270, "fontSize": 13.5, "align": "left", "baseline": "alphabetic", "color": "#222"},
 "encoding": {"x": {"field": "t", "type": "quantitative", "axis": null}, "y": {"field": "v", "type": "quantitative", "axis": null}, "text": {"field": "s"}}},
{"data": {"values": [{"t":47.28,"v":-46.3,"s":"GSE"}]}, "mark": {"type": "text", "angle": 270, "fontSize": 9.5, "align": "left", "baseline": "alphabetic", "color": "#222"},
 "encoding": {"x": {"field": "t", "type": "quantitative", "axis": null}, "y": {"field": "v", "type": "quantitative", "axis": null}, "text": {"field": "s"}}},
{"data": {"values": [{"t":44.49,"v":2.4,"s":"Observation THD"}]}, "mark": {"type": "text", "angle": 270, "fontSize": 21, "align": "center", "baseline": "alphabetic", "color": "#222"},
 "encoding": {"x": {"field": "t", "type": "quantitative", "axis": null}, "y": {"field": "v", "type": "quantitative", "axis": null}, "text": {"field": "s"}}},
{"data": {"values": [{"t":55.43,"t2":60.11}]}, "mark": {"type": "rect", "fill": {"gradient": "linear", "x1": 0, "y1": 0, "x2": 1, "y2": 0, "stops": [{"offset": 0, "color": "#b49b95"}, {"offset": 1, "color": "#dcd1ce"}]}, "fillOpacity": 0.55},
 "encoding": {"x": {"field": "t", "type": "quantitative", "axis": null}, "x2": {"field": "t2"}, "y": {"datum": 100, "type": "quantitative", "axis": null}, "y2": {"datum": -100}}},
{"data": {"values": [{}]}, "mark": {"type": "rule", "strokeDash": [2,3], "strokeWidth": 2, "color": "#111"},
 "encoding": {"x": {"datum": 53.1, "type": "quantitative", "axis": {"orient": "top", "values": [50,52,54,56,58,60,62,64,66,68,70,72,74,76,78,80,82,84,86,88,90], "labels": false, "title": null}},
  "y": {"datum": 100, "type": "quantitative", "axis": {"orient": "right", "values": [50,0,-50,-100], "labels": false, "title": null}}, "y2": {"datum": -100}}}
],
"resolve": {"axis": {"x": "independent", "y": "independent"}}
},
{
"width": 530, "height": 82,
"layer": [
{"data": {"name": "thcV"}, "transform": [{"fold": ["x","y","z"], "as": ["c","v"]}], "mark": {"type": "line", "strokeWidth": 1},
 "encoding": {"x": {"field": "t", "type": "quantitative", "scale": {"domain": [50,90], "nice": false, "zero": false}, "axis": {"values": [50,52,54,56,58,60,62,64,66,68,70,72,74,76,78,80,82,84,86,88,90], "labels": false, "title": null}},
  "y": {"field": "v", "type": "quantitative", "scale": {"domain": [-150,100], "nice": false, "zero": false}, "axis": {"values": [50,0,-50,-100], "title": null}},
  "color": {"field": "c", "type": "nominal", "scale": {"domain": ["x","y","z"], "range": ["#2f6fb6","#4db848","#e8342c"]}, "legend": null}}},
{"data": {"values": [{"t":83.36,"v":-90,"c":"x","s":"Vx"},{"t":84.87,"v":-90,"c":"y","s":"Vy"},{"t":86.6,"v":-90,"c":"z","s":"Vz"}]}, "mark": {"type": "text", "fontSize": 13, "align": "left", "baseline": "middle"},
 "encoding": {"x": {"field": "t", "type": "quantitative", "axis": null}, "y": {"field": "v", "type": "quantitative", "axis": null}, "text": {"field": "s"}, "color": {"field": "c", "type": "nominal", "scale": {"domain": ["x","y","z"], "range": ["#2f6fb6","#4db848","#e8342c"]}, "legend": null}}},
{"data": {"values": [{"t":50,"v":36,"s":"g"}]}, "mark": {"type": "text", "fontSize": 25, "align": "left", "baseline": "alphabetic", "dx": 7, "color": "#111"},
 "encoding": {"x": {"field": "t", "type": "quantitative", "axis": null}, "y": {"field": "v", "type": "quantitative", "axis": null}, "text": {"field": "s"}}},
{"data": {"values": [{"t":46.0,"v":-22,"s":"Observation THC"}]}, "mark": {"type": "text", "angle": 270, "fontSize": 21, "align": "center", "baseline": "alphabetic", "color": "#222"},
 "encoding": {"x": {"field": "t", "type": "quantitative", "axis": null}, "y": {"field": "v", "type": "quantitative", "axis": null}, "text": {"field": "s"}}},
{"data": {"values": [{"t":59.8,"t2":75.96}]}, "mark": {"type": "rect", "fill": {"gradient": "linear", "x1": 0, "y1": 0, "x2": 1, "y2": 0, "stops": [{"offset": 0, "color": "#b49b95"}, {"offset": 1, "color": "#dcd1ce"}]}, "fillOpacity": 0.55},
 "encoding": {"x": {"field": "t", "type": "quantitative", "axis": null}, "x2": {"field": "t2"}, "y": {"datum": 100, "type": "quantitative", "axis": null}, "y2": {"datum": -150}}},
{"data": {"values": [{}]}, "mark": {"type": "rule", "strokeDash": [2,3], "strokeWidth": 2, "color": "#111"},
 "encoding": {"x": {"datum": 53.77, "type": "quantitative", "axis": {"orient": "top", "values": [50,52,54,56,58,60,62,64,66,68,70,72,74,76,78,80,82,84,86,88,90], "labels": false, "title": null}},
  "y": {"datum": 100, "type": "quantitative", "axis": {"orient": "right", "values": [50,0,-50,-100], "labels": false, "title": null}}, "y2": {"datum": -150}}}
],
"resolve": {"axis": {"x": "independent", "y": "independent"}}
},
{
"width": 530, "height": 82,
"layer": [
{"data": {"name": "thdVec"}, "mark": {"type": "rule", "color": "#444", "strokeWidth": 0.8},
 "encoding": {"x": {"field": "t", "type": "quantitative", "scale": {"domain": [50,90], "nice": false, "zero": false}, "axis": {"values": [50,52,54,56,58,60,62,64,66,68,70,72,74,76,78,80,82,84,86,88,90], "labelExpr": "datum.value % 10 == 0 ? (datum.value < 60 ? '00:' + datum.value : '01:' + (datum.value < 70 ? '0' : '') + (datum.value - 60)) : ''", "title": "Time（UT）", "titleX": 240, "titleY": 32, "titleBaseline": "alphabetic", "titleAlign": "center"}},
  "y": {"field": "v", "type": "quantitative", "scale": {"domain": [-90,80], "nice": false, "zero": false}, "axis": {"values": [50,0,-50], "title": null}},
  "x2": {"field": "t2"}, "y2": {"field": "v2"}}},
{"data": {"values": [{"t":50,"v":27.6,"s":"c"}]}, "mark": {"type": "text", "fontSize": 25, "align": "left", "baseline": "alphabetic", "dx": 6, "color": "#111"},
 "encoding": {"x": {"field": "t", "type": "quantitative", "axis": null}, "y": {"field": "v", "type": "quantitative", "axis": null}, "text": {"field": "s"}}},
{"data": {"values": [{"t":47.89,"v":-44.4,"s":"V km/s"}]}, "mark": {"type": "text", "angle": 270, "fontSize": 13.5, "align": "left", "baseline": "alphabetic", "color": "#222"},
 "encoding": {"x": {"field": "t", "type": "quantitative", "axis": null}, "y": {"field": "v", "type": "quantitative", "axis": null}, "text": {"field": "s"}}},
{"data": {"values": [{"t":76.09,"v":-58.9,"t2":76.09,"v2":-14},{"t":76.09,"v":-58.9,"t2":77.9,"v2":-58.9}]}, "mark": {"type": "rule", "color": "#111", "strokeWidth": 1},
 "encoding": {"x": {"field": "t", "type": "quantitative", "axis": null}, "y": {"field": "v", "type": "quantitative", "axis": null}, "x2": {"field": "t2"}, "y2": {"field": "v2"}}},
{"data": {"values": [{"t":76.09,"v":-17.5}]}, "mark": {"type": "point", "shape": "triangle-up", "filled": true, "size": 45, "color": "#111", "opacity": 1},
 "encoding": {"x": {"field": "t", "type": "quantitative", "axis": null}, "y": {"field": "v", "type": "quantitative", "axis": null}}},
{"data": {"values": [{"t":77.92,"v":-58.9}]}, "mark": {"type": "point", "shape": "triangle-right", "filled": true, "size": 45, "color": "#111", "opacity": 1},
 "encoding": {"x": {"field": "t", "type": "quantitative", "axis": null}, "y": {"field": "v", "type": "quantitative", "axis": null}}},
{"data": {"values": [{"t":75.13,"v":-23.6,"s":"Vy"},{"t":79.09,"v":-60.3,"s":"Vx"}]}, "mark": {"type": "text", "fontSize": 13, "align": "center", "baseline": "middle", "color": "#222"},
 "encoding": {"x": {"field": "t", "type": "quantitative", "axis": null}, "y": {"field": "v", "type": "quantitative", "axis": null}, "text": {"field": "s"}}},
{"data": {"values": [{"t":55.43,"t2":60.11}]}, "mark": {"type": "rect", "fill": {"gradient": "linear", "x1": 0, "y1": 0, "x2": 1, "y2": 0, "stops": [{"offset": 0, "color": "#b49b95"}, {"offset": 1, "color": "#dcd1ce"}]}, "fillOpacity": 0.55},
 "encoding": {"x": {"field": "t", "type": "quantitative", "axis": null}, "x2": {"field": "t2"}, "y": {"datum": 80, "type": "quantitative", "axis": null}, "y2": {"datum": -185.4}}},
{"data": {"values": [{}]}, "mark": {"type": "rule", "strokeDash": [2,3], "strokeWidth": 2, "color": "#111"},
 "encoding": {"x": {"datum": 53.1, "type": "quantitative", "axis": {"orient": "top", "values": [50,52,54,56,58,60,62,64,66,68,70,72,74,76,78,80,82,84,86,88,90], "labels": false, "title": null}},
  "y": {"datum": 80, "type": "quantitative", "axis": {"orient": "right", "values": [50,0,-50], "labels": false, "title": null}}, "y2": {"datum": -185.4}}}
],
"resolve": {"axis": {"x": "independent", "y": "independent"}}
},
{
"width": 530, "height": 82,
"layer": [
{"data": {"name": "thcVec"}, "mark": {"type": "rule", "color": "#444", "strokeWidth": 0.8},
 "encoding": {"x": {"field": "t", "type": "quantitative", "scale": {"domain": [50,90], "nice": false, "zero": false}, "axis": {"values": [50,52,54,56,58,60,62,64,66,68,70,72,74,76,78,80,82,84,86,88,90], "labelExpr": "datum.value % 10 == 0 ? (datum.value < 60 ? '00:' + datum.value : '01:' + (datum.value < 70 ? '0' : '') + (datum.value - 60)) : ''", "title": "Time（UT）", "titleX": 260, "titleY": 32, "titleBaseline": "alphabetic", "titleAlign": "center"}},
  "y": {"field": "v", "type": "quantitative", "scale": {"domain": [-100,80], "nice": false, "zero": false}, "axis": {"values": [50,0,-50], "title": null}},
  "x2": {"field": "t2"}, "y2": {"field": "v2"}}},
{"data": {"values": [{"t":50,"v":34,"s":"h"}]}, "mark": {"type": "text", "fontSize": 25, "align": "left", "baseline": "alphabetic", "dx": 7, "color": "#111"},
 "encoding": {"x": {"field": "t", "type": "quantitative", "axis": null}, "y": {"field": "v", "type": "quantitative", "axis": null}, "text": {"field": "s"}}},
{"data": {"values": [{"t":76.06,"v":-68.6,"t2":76.06,"v2":-24},{"t":76.06,"v":-68.6,"t2":78.2,"v2":-68.6}]}, "mark": {"type": "rule", "color": "#111", "strokeWidth": 1},
 "encoding": {"x": {"field": "t", "type": "quantitative", "axis": null}, "y": {"field": "v", "type": "quantitative", "axis": null}, "x2": {"field": "t2"}, "y2": {"field": "v2"}}},
{"data": {"values": [{"t":76.06,"v":-27.6}]}, "mark": {"type": "point", "shape": "triangle-up", "filled": true, "size": 45, "color": "#111", "opacity": 1},
 "encoding": {"x": {"field": "t", "type": "quantitative", "axis": null}, "y": {"field": "v", "type": "quantitative", "axis": null}}},
{"data": {"values": [{"t":78.28,"v":-68.6}]}, "mark": {"type": "point", "shape": "triangle-right", "filled": true, "size": 45, "color": "#111", "opacity": 1},
 "encoding": {"x": {"field": "t", "type": "quantitative", "axis": null}, "y": {"field": "v", "type": "quantitative", "axis": null}}},
{"data": {"values": [{"t":75.51,"v":-32,"s":"Vy"},{"t":79.47,"v":-69.9,"s":"Vx"}]}, "mark": {"type": "text", "fontSize": 13, "align": "center", "baseline": "middle", "color": "#222"},
 "encoding": {"x": {"field": "t", "type": "quantitative", "axis": null}, "y": {"field": "v", "type": "quantitative", "axis": null}, "text": {"field": "s"}}},
{"data": {"values": [{"t":59.8,"t2":75.96}]}, "mark": {"type": "rect", "fill": {"gradient": "linear", "x1": 0, "y1": 0, "x2": 1, "y2": 0, "stops": [{"offset": 0, "color": "#b49b95"}, {"offset": 1, "color": "#dcd1ce"}]}, "fillOpacity": 0.55},
 "encoding": {"x": {"field": "t", "type": "quantitative", "axis": null}, "x2": {"field": "t2"}, "y": {"datum": 80, "type": "quantitative", "axis": null}, "y2": {"datum": -201}}},
{"data": {"values": [{}]}, "mark": {"type": "rule", "strokeDash": [2,3], "strokeWidth": 2, "color": "#111"},
 "encoding": {"x": {"datum": 53.77, "type": "quantitative", "axis": {"orient": "top", "values": [50,52,54,56,58,60,62,64,66,68,70,72,74,76,78,80,82,84,86,88,90], "labels": false, "title": null}},
  "y": {"datum": 80, "type": "quantitative", "axis": {"orient": "right", "values": [50,0,-50], "labels": false, "title": null}}, "y2": {"datum": -201}}}
],
"resolve": {"axis": {"x": "independent", "y": "independent"}}
},
{"width": 530, "height": 46, "view": {"stroke": null}, "data": {"values": [{}]}, "mark": {"type": "rule", "opacity": 0}, "encoding": {}},
{"width": 530, "height": 46, "view": {"stroke": null}, "data": {"values": [{}]}, "mark": {"type": "rule", "opacity": 0}, "encoding": {}},
{
"width": 530, "height": 123,
"layer": [
{"data": {"name": "thdSim"}, "transform": [{"fold": ["x","y","z"], "as": ["c","v"]}], "mark": {"type": "line", "strokeWidth": 1},
 "encoding": {"x": {"field": "t", "type": "quantitative", "scale": {"domain": [65,105], "nice": false, "zero": false}, "axis": {"values": [65,67,69,71,73,75,77,79,81,83,85,87,89,91,93,95,97,99,101,103,105], "labels": false, "title": null}},
  "y": {"field": "v", "type": "quantitative", "scale": {"domain": [-100,100], "nice": false, "zero": false}, "axis": {"values": [100,50,0,-50,-100], "title": null}},
  "color": {"field": "c", "type": "nominal", "scale": {"domain": ["x","y","z"], "range": ["#2f6fb6","#4db848","#e8342c"]}, "legend": null}}},
{"data": {"values": [{"t":98.9,"v":25.7,"c":"x","s":"Vx"},{"t":100.4,"v":25.7,"c":"y","s":"Vy"},{"t":102.06,"v":25.7,"c":"z","s":"Vz"}]}, "mark": {"type": "text", "fontSize": 13, "align": "left", "baseline": "middle"},
 "encoding": {"x": {"field": "t", "type": "quantitative", "axis": null}, "y": {"field": "v", "type": "quantitative", "axis": null}, "text": {"field": "s"}, "color": {"field": "c", "type": "nominal", "scale": {"domain": ["x","y","z"], "range": ["#2f6fb6","#4db848","#e8342c"]}, "legend": null}}},
{"data": {"values": [{"t":65,"v":59,"s":"d"}]}, "mark": {"type": "text", "fontSize": 25, "align": "left", "baseline": "alphabetic", "dx": 6, "color": "#111"},
 "encoding": {"x": {"field": "t", "type": "quantitative", "axis": null}, "y": {"field": "v", "type": "quantitative", "axis": null}, "text": {"field": "s"}}},
{"data": {"values": [{"t":61.91,"v":-62.6,"s":"V"},{"t":61.68,"v":13.8,"s":"km/s"}]}, "mark": {"type": "text", "angle": 270, "fontSize": 13.5, "align": "left", "baseline": "alphabetic", "color": "#222"},
 "encoding": {"x": {"field": "t", "type": "quantitative", "axis": null}, "y": {"field": "v", "type": "quantitative", "axis": null}, "text": {"field": "s"}}},
{"data": {"values": [{"t":62.06,"v":-41.5,"s":"CCMC"}]}, "mark": {"type": "text", "angle": 270, "fontSize": 9.5, "align": "left", "baseline": "alphabetic", "color": "#222"},
 "encoding": {"x": {"field": "t", "type": "quantitative", "axis": null}, "y": {"field": "v", "type": "quantitative", "axis": null}, "text": {"field": "s"}}},
{"data": {"values": [{"t":59.49,"v":-96.7,"s":"CCMC-simulation THD"}]}, "mark": {"type": "text", "angle": 270, "fontSize": 21, "align": "center", "baseline": "alphabetic", "color": "#222"},
 "encoding": {"x": {"field": "t", "type": "quantitative", "axis": null}, "y": {"field": "v", "type": "quantitative", "axis": null}, "text": {"field": "s"}}},
{"data": {"values": [{"t":70.43,"t2":75.11}]}, "mark": {"type": "rect", "fill": {"gradient": "linear", "x1": 0, "y1": 0, "x2": 1, "y2": 0, "stops": [{"offset": 0, "color": "#b49b95"}, {"offset": 1, "color": "#dcd1ce"}]}, "fillOpacity": 0.55},
 "encoding": {"x": {"field": "t", "type": "quantitative", "axis": null}, "x2": {"field": "t2"}, "y": {"datum": 100, "type": "quantitative", "axis": null}, "y2": {"datum": -100}}},
{"data": {"values": [{}]}, "mark": {"type": "rule", "strokeDash": [2,3], "strokeWidth": 2, "color": "#111"},
 "encoding": {"x": {"datum": 68.1, "type": "quantitative", "axis": {"orient": "top", "values": [65,67,69,71,73,75,77,79,81,83,85,87,89,91,93,95,97,99,101,103,105], "labels": false, "title": null}},
  "y": {"datum": 100, "type": "quantitative", "axis": {"orient": "right", "values": [100,50,0,-50,-100], "labels": false, "title": null}}, "y2": {"datum": -100}}}
],
"resolve": {"axis": {"x": "independent", "y": "independent"}}
},
{
"width": 530, "height": 123,
"layer": [
{"data": {"name": "thcSim"}, "transform": [{"fold": ["x","y","z"], "as": ["c","v"]}], "mark": {"type": "line", "strokeWidth": 1},
 "encoding": {"x": {"field": "t", "type": "quantitative", "scale": {"domain": [65,95], "nice": false, "zero": false}, "axis": {"values": [65,67,69,71,73,75,77,79,81,83,85,87,89,91,93,95], "labels": false, "title": null}},
  "y": {"field": "v", "type": "quantitative", "scale": {"domain": [-150,200], "nice": false, "zero": false}, "axis": {"values": [200,150,100,50,0,-50,-100], "title": null}},
  "color": {"field": "c", "type": "nominal", "scale": {"domain": ["x","y","z"], "range": ["#2f6fb6","#4db848","#e8342c"]}, "legend": null}}},
{"data": {"values": [{"t":95.57,"v":43.7,"c":"x","s":"Vx"},{"t":95.57,"v":-5.7,"c":"y","s":"Vy"},{"t":95.57,"v":-56,"c":"z","s":"Vz"}]}, "mark": {"type": "text", "fontSize": 13, "align": "left", "baseline": "middle"},
 "encoding": {"x": {"field": "t", "type": "quantitative", "axis": null}, "y": {"field": "v", "type": "quantitative", "axis": null}, "text": {"field": "s"}, "color": {"field": "c", "type": "nominal", "scale": {"domain": ["x","y","z"], "range": ["#2f6fb6","#4db848","#e8342c"]}, "legend": null}}},
{"data": {"values": [{"t":65,"v":139,"s":"I"}]}, "mark": {"type": "text", "fontSize": 25, "align": "left", "baseline": "alphabetic", "dx": 7, "color": "#111"},
 "encoding": {"x": {"field": "t", "type": "quantitative", "axis": null}, "y": {"field": "v", "type": "quantitative", "axis": null}, "text": {"field": "s"}}},
{"data": {"values": [{"t":62.11,"v":-145.7,"s":"CCMC-simulation THC"}]}, "mark": {"type": "text", "angle": 270, "fontSize": 21, "align": "center", "baseline": "alphabetic", "color": "#222"},
 "encoding": {"x": {"field": "t", "type": "quantitative", "axis": null}, "y": {"field": "v", "type": "quantitative", "axis": null}, "text": {"field": "s"}}},
{"data": {"values": [{"t":72.36,"t2":84.47}]}, "mark": {"type": "rect", "fill": {"gradient": "linear", "x1": 0, "y1": 0, "x2": 1, "y2": 0, "stops": [{"offset": 0, "color": "#b49b95"}, {"offset": 1, "color": "#dcd1ce"}]}, "fillOpacity": 0.55},
 "encoding": {"x": {"field": "t", "type": "quantitative", "axis": null}, "x2": {"field": "t2"}, "y": {"datum": 200, "type": "quantitative", "axis": null}, "y2": {"datum": -150}}},
{"data": {"values": [{}]}, "mark": {"type": "rule", "strokeDash": [2,3], "strokeWidth": 2, "color": "#111"},
 "encoding": {"x": {"datum": 67.8, "type": "quantitative", "axis": {"orient": "top", "values": [65,67,69,71,73,75,77,79,81,83,85,87,89,91,93,95], "labels": false, "title": null}},
  "y": {"datum": 200, "type": "quantitative", "axis": {"orient": "right", "values": [150,100,50,0,-50,-100], "labels": false, "title": null}}, "y2": {"datum": -150}}}
],
"resolve": {"axis": {"x": "independent", "y": "independent"}}
},
{
"width": 530, "height": 123,
"layer": [
{"data": {"name": "thdSimVec"}, "mark": {"type": "rule", "color": "#444", "strokeWidth": 0.8},
 "encoding": {"x": {"field": "t", "type": "quantitative", "scale": {"domain": [65,105], "nice": false, "zero": false}, "axis": {"values": [65,67,69,71,73,75,77,79,81,83,85,87,89,91,93,95,97,99,101,103,105], "labelExpr": "(datum.value - 65) % 10 == 0 ? '01:' + (datum.value < 70 ? '0' : '') + (datum.value - 60) : ''", "title": "Time in simulation", "titleX": 256, "titleY": 38, "titleBaseline": "alphabetic", "titleAlign": "center"}},
  "y": {"field": "v", "type": "quantitative", "scale": {"domain": [-100,100], "nice": false, "zero": false}, "axis": {"values": [50,0,-50,-100], "title": null, "labelOffset": {"condition": {"test": "datum.value == -100", "value": -4}, "value": 0}}},
  "x2": {"field": "t2"}, "y2": {"field": "v2"}}},
{"data": {"values": [{"t":65.0,"v":0,"t2":67.7,"v2":0},{"t":75.6,"v":0,"t2":104,"v2":0}]}, "mark": {"type": "rule", "color": "#555", "strokeWidth": 0.8, "strokeDash": [7,3,1.5,3]},
 "encoding": {"x": {"field": "t", "type": "quantitative", "axis": null}, "y": {"field": "v", "type": "quantitative", "axis": null}, "x2": {"field": "t2"}, "y2": {"field": "v2"}}},
{"data": {"values": [{"t":65,"v":62.6,"s":"e"}]}, "mark": {"type": "text", "fontSize": 25, "align": "left", "baseline": "alphabetic", "dx": 6, "color": "#111"},
 "encoding": {"x": {"field": "t", "type": "quantitative", "axis": null}, "y": {"field": "v", "type": "quantitative", "axis": null}, "text": {"field": "s"}}},
{"data": {"values": [{"t":62.89,"v":-43.1,"s":"V km/s"}]}, "mark": {"type": "text", "angle": 270, "fontSize": 13.5, "align": "left", "baseline": "alphabetic", "color": "#222"},
 "encoding": {"x": {"field": "t", "type": "quantitative", "axis": null}, "y": {"field": "v", "type": "quantitative", "axis": null}, "text": {"field": "s"}}},
{"data": {"values": [{"t":91.1,"v":-81.6,"t2":91.1,"v2":-31},{"t":91.1,"v":-81.6,"t2":94.5,"v2":-81.6}]}, "mark": {"type": "rule", "color": "#111", "strokeWidth": 1},
 "encoding": {"x": {"field": "t", "type": "quantitative", "axis": null}, "y": {"field": "v", "type": "quantitative", "axis": null}, "x2": {"field": "t2"}, "y2": {"field": "v2"}}},
{"data": {"values": [{"t":91.1,"v":-28.5}]}, "mark": {"type": "point", "shape": "triangle-up", "filled": true, "size": 45, "color": "#111", "opacity": 1},
 "encoding": {"x": {"field": "t", "type": "quantitative", "axis": null}, "y": {"field": "v", "type": "quantitative", "axis": null}}},
{"data": {"values": [{"t":94.68,"v":-81.6}]}, "mark": {"type": "point", "shape": "triangle-right", "filled": true, "size": 45, "color": "#111", "opacity": 1},
 "encoding": {"x": {"field": "t", "type": "quantitative", "axis": null}, "y": {"field": "v", "type": "quantitative", "axis": null}}},
{"data": {"values": [{"t":90.21,"v":-18.2,"s":"Vy"},{"t":95.68,"v":-72.4,"s":"Vx"}]}, "mark": {"type": "text", "fontSize": 13, "align": "center", "baseline": "middle", "color": "#222"},
 "encoding": {"x": {"field": "t", "type": "quantitative", "axis": null}, "y": {"field": "v", "type": "quantitative", "axis": null}, "text": {"field": "s"}}},
{"data": {"values": [{"t":68.1,"v":-155.3,"s":"SI"}]}, "mark": {"type": "text", "font": "Liberation Serif", "fontSize": 28, "align": "center", "baseline": "alphabetic", "color": "#111"},
 "encoding": {"x": {"field": "t", "type": "quantitative", "axis": null}, "y": {"field": "v", "type": "quantitative", "axis": null}, "text": {"field": "s"}}},
{"data": {"values": [{"t":70.43,"t2":75.11}]}, "mark": {"type": "rect", "fill": {"gradient": "linear", "x1": 0, "y1": 0, "x2": 1, "y2": 0, "stops": [{"offset": 0, "color": "#b49b95"}, {"offset": 1, "color": "#dcd1ce"}]}, "fillOpacity": 0.55},
 "encoding": {"x": {"field": "t", "type": "quantitative", "axis": null}, "x2": {"field": "t2"}, "y": {"datum": 100, "type": "quantitative", "axis": null}, "y2": {"datum": -100}}},
{"data": {"values": [{}]}, "mark": {"type": "rule", "strokeDash": [2,3], "strokeWidth": 2, "color": "#111"},
 "encoding": {"x": {"datum": 68.1, "type": "quantitative", "axis": {"orient": "top", "values": [65,67,69,71,73,75,77,79,81,83,85,87,89,91,93,95,97,99,101,103,105], "labels": false, "title": null}},
  "y": {"datum": 100, "type": "quantitative", "axis": {"orient": "right", "values": [50,0,-50,-100], "labels": false, "title": null}}, "y2": {"datum": -100}}}
],
"resolve": {"axis": {"x": "independent", "y": "independent"}}
},
{
"width": 530, "height": 123,
"layer": [
{"data": {"name": "thcSimVec"}, "mark": {"type": "rule", "color": "#444", "strokeWidth": 0.8},
 "encoding": {"x": {"field": "t", "type": "quantitative", "scale": {"domain": [65,95], "nice": false, "zero": false}, "axis": {"values": [65,67,69,71,73,75,77,79,81,83,85,87,89,91,93,95], "labelExpr": "(datum.value - 65) % 10 == 0 ? '01:' + (datum.value < 70 ? '0' : '') + (datum.value - 60) : ''", "title": "Time in simulation", "titleX": 286, "titleY": 38, "titleBaseline": "alphabetic", "titleAlign": "center"}},
  "y": {"field": "v", "type": "quantitative", "scale": {"domain": [-150,200], "nice": false, "zero": false}, "axis": {"values": [200,150,100,50,0,-50,-100,-150], "title": null, "labelOffset": {"condition": {"test": "datum.value == -150", "value": -4}, "value": 0}}},
  "x2": {"field": "t2"}, "y2": {"field": "v2"}}},
{"data": {"values": [{"t":69.0,"v":0,"t2":88.7,"v2":0}]}, "mark": {"type": "rule", "color": "#555", "strokeWidth": 0.8, "strokeDash": [1.5,3]},
 "encoding": {"x": {"field": "t", "type": "quantitative", "axis": null}, "y": {"field": "v", "type": "quantitative", "axis": null}, "x2": {"field": "t2"}, "y2": {"field": "v2"}}},
{"data": {"values": [{"t":65,"v":128.6,"s":"j"}]}, "mark": {"type": "text", "fontSize": 25, "align": "left", "baseline": "alphabetic", "dx": 7, "color": "#111"},
 "encoding": {"x": {"field": "t", "type": "quantitative", "axis": null}, "y": {"field": "v", "type": "quantitative", "axis": null}, "text": {"field": "s"}}},
{"data": {"values": [{"t":90.83,"v":-138,"t2":90.83,"v2":-53},{"t":90.83,"v":-138,"t2":93.4,"v2":-138}]}, "mark": {"type": "rule", "color": "#111", "strokeWidth": 1},
 "encoding": {"x": {"field": "t", "type": "quantitative", "axis": null}, "y": {"field": "v", "type": "quantitative", "axis": null}, "x2": {"field": "t2"}, "y2": {"field": "v2"}}},
{"data": {"values": [{"t":90.83,"v":-49.4}]}, "mark": {"type": "point", "shape": "triangle-up", "filled": true, "size": 45, "color": "#111", "opacity": 1},
 "encoding": {"x": {"field": "t", "type": "quantitative", "axis": null}, "y": {"field": "v", "type": "quantitative", "axis": null}}},
{"data": {"values": [{"t":93.57,"v":-138}]}, "mark": {"type": "point", "shape": "triangle-right", "filled": true, "size": 45, "color": "#111", "opacity": 1},
 "encoding": {"x": {"field": "t", "type": "quantitative", "axis": null}, "y": {"field": "v", "type": "quantitative", "axis": null}}},
{"data": {"values": [{"t":90.19,"v":-42.9,"s":"Vy"},{"t":94.26,"v":-117,"s":"Vx"}]}, "mark": {"type": "text", "fontSize": 13, "align": "center", "baseline": "middle", "color": "#222"},
 "encoding": {"x": {"field": "t", "type": "quantitative", "axis": null}, "y": {"field": "v", "type": "quantitative", "axis": null}, "text": {"field": "s"}}},
{"data": {"values": [{"t":67.8,"v":-248.6,"s":"SI"}]}, "mark": {"type": "text", "font": "Liberation Serif", "fontSize": 28, "align": "center", "baseline": "alphabetic", "color": "#111"},
 "encoding": {"x": {"field": "t", "type": "quantitative", "axis": null}, "y": {"field": "v", "type": "quantitative", "axis": null}, "text": {"field": "s"}}},
{"data": {"values": [{"t":72.36,"t2":84.47}]}, "mark": {"type": "rect", "fill": {"gradient": "linear", "x1": 0, "y1": 0, "x2": 1, "y2": 0, "stops": [{"offset": 0, "color": "#b49b95"}, {"offset": 1, "color": "#dcd1ce"}]}, "fillOpacity": 0.55},
 "encoding": {"x": {"field": "t", "type": "quantitative", "axis": null}, "x2": {"field": "t2"}, "y": {"datum": 200, "type": "quantitative", "axis": null}, "y2": {"datum": -150}}},
{"data": {"values": [{}]}, "mark": {"type": "rule", "strokeDash": [2,3], "strokeWidth": 2, "color": "#111"},
 "encoding": {"x": {"datum": 67.8, "type": "quantitative", "axis": {"orient": "top", "values": [65,67,69,71,73,75,77,79,81,83,85,87,89,91,93,95], "labels": false, "title": null}},
  "y": {"datum": 200, "type": "quantitative", "axis": {"orient": "right", "values": [150,100,50,0,-50,-100], "labels": false, "title": null}}, "y2": {"datum": -150}}}
],
"resolve": {"axis": {"x": "independent", "y": "independent"}}
}
]
}
